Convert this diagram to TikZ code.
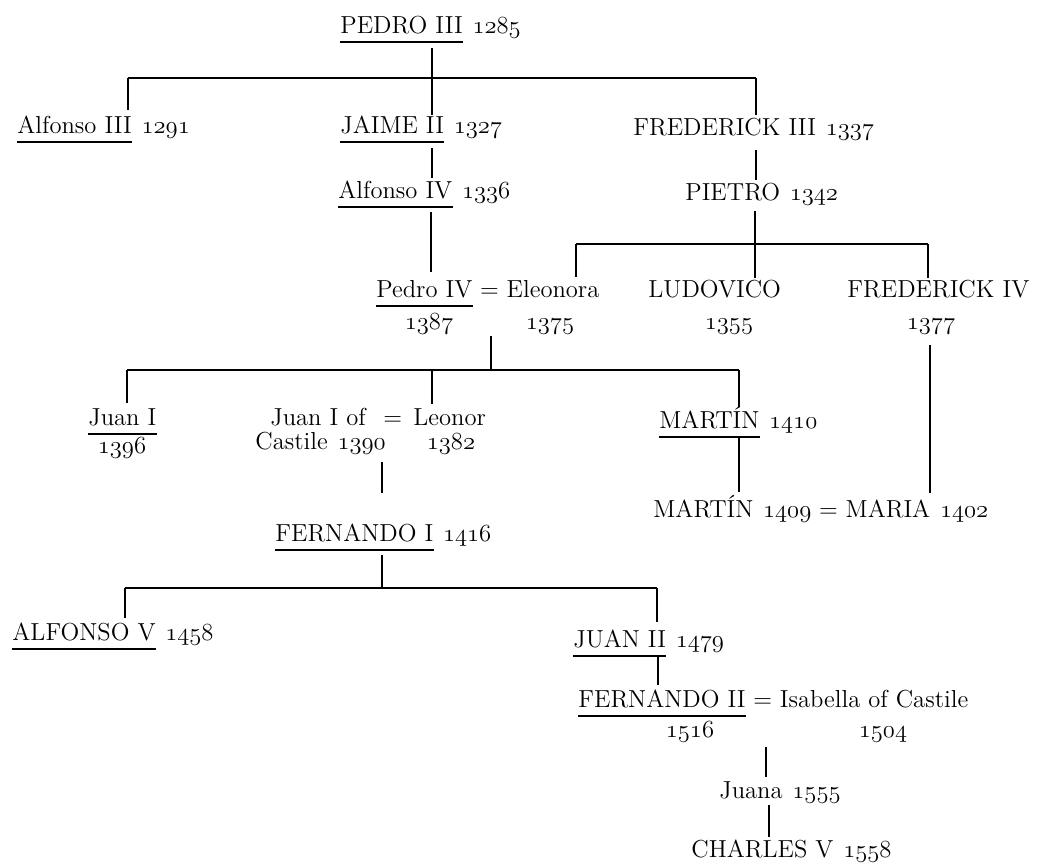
\RequirePackage{fix-cm}
\documentclass[tikz,border=0pt]{standalone}
\newcommand\fs{\fontsize{12.3}{14}\selectfont}
\newcommand\os[1]{{\usefont{OML}{cmm}{m}{it}#1}}
\begin{document}
\begin{tikzpicture}[x=0.5pt,y=-0.5pt,
  nm/.style={anchor=base west,inner sep=0pt,font=\fs},
  dc/.style={anchor=base,inner sep=0pt,font=\fs},
  ln/.style={line width=0.8pt},
  ul/.style={line width=0.6pt}]
\useasboundingbox (0,0) rectangle (1039,864);
\newcommand\ulname[1]{\draw[ul] ([yshift=-4.5pt]#1.base west) -- ([yshift=-4.5pt]#1.base east);}
\newcommand\dateafter[3]{\node[nm] (#1) at ([xshift=4.5pt]#2.base east) {\os{#3}};}
\newcommand\eqafter[2]{\node[nm] (#1) at ([xshift=3.5pt]#2.base east) {$=$};}

% ---------- generation 1
\node[nm] (p3) at (340,33) {PEDRO III}; \dateafter{p3d}{p3}{1285} \ulname{p3}

% ---------- generation 2
\node[nm] (a3) at (17,133) {Alfonso III}; \dateafter{a3d}{a3}{1291} \ulname{a3}
\node[nm] (j2) at (340,133) {JAIME II}; \dateafter{j2d}{j2}{1327} \ulname{j2}
\node[nm] (f3) at (633,135) {FREDERICK III}; \dateafter{f3d}{f3}{1337}

\node[nm] (a4) at (338,198) {Alfonso IV}; \dateafter{a4d}{a4}{1336} \ulname{a4}
\node[nm] (pi) at (685,200) {PIETRO}; \dateafter{pid}{pi}{1342}

% ---------- generation 3
\node[nm] (p4) at (376,297) {Pedro IV}; \ulname{p4}
\eqafter{p4e}{p4}
\node[nm] (el) at ([xshift=3.5pt]p4e.base east) {Eleonora};
\node[dc] (p4d) at (429,329) {\os{1387}};
\node[dc] (eld) at (550,329) {\os{1375}};
\node[nm] (lu) at (648,297) {LUDOVICO};
\node[dc] (lud) at (729,329) {\os{1355}};
\node[nm] (f4) at (847,297) {FREDERICK IV};
\node[dc] (f4d) at (931,329) {\os{1377}};

% ---------- generation 4
\node[nm] (j1) at (88,425) {Juan I}; \ulname{j1}
\node[dc] (j1d) at (122,453) {\os{1396}};
\node[nm] (jc) at (270,425) {Juan I of};
\node[nm] (jc2) at (255,449) {Castile}; \dateafter{jcd}{jc2}{1390}
\node[nm] (jce) at (383,425) {$=$};
\node[nm] (le) at (413,425) {Leonor};
\node[dc] (led) at (451,449) {\os{1382}};
\node[nm] (m1) at (659,428) {MART\'IN}; \dateafter{m1d}{m1}{1410} \ulname{m1}

\node[nm] (m2) at (653,517) {MART\'IN}; \dateafter{m2d}{m2}{1409}
\eqafter{m2e}{m2d}
\node[nm] (ma) at ([xshift=3.5pt]m2e.base east) {MARIA}; \dateafter{mad}{ma}{1402}

% ---------- generation 5
\node[nm] (fe1) at (275,541) {FERNANDO I}; \dateafter{fe1d}{fe1}{1416} \ulname{fe1}
\node[nm] (a5) at (12,640) {ALFONSO V}; \dateafter{a5d}{a5}{1458} \ulname{a5}
\node[nm] (j2b) at (573,647) {JUAN II}; \dateafter{j2bd}{j2b}{1479} \ulname{j2b}
\node[nm] (fe2) at (578,707) {FERNANDO II}; \ulname{fe2}
\eqafter{fe2e}{fe2}
\node[nm] (is) at ([xshift=3.5pt]fe2e.base east) {Isabella of Castile};
\node[dc] (fe2d) at (690,737) {\os{1516}};
\node[dc] (isd) at (883,737) {\os{1504}};
\node[nm] (ju) at (719,798) {Juana}; \dateafter{jud}{ju}{1555}
\node[nm] (c5) at (691,857) {CHARLES V}; \dateafter{c5d}{c5}{1558}

% ---------- connectors
% Pedro III's children
\coordinate (jA) at (432,78); \coordinate (jA1) at (128,78); \coordinate (jA3) at (756,78);
\draw[ln] (jA |- 0,48) -- (jA);
\draw[ln] (jA1) -- (jA3);
\draw[ln] (jA1) -- (jA1 |- 0,110);
\draw[ln] (jA) -- (jA |- 0,115);
\draw[ln] (jA3) -- (jA3 |- 0,115);
\draw[ln] (432,148) -- (432,178);
\draw[ln] (756,150) -- (756,180);
\draw[ln] (431,212) -- (431,272);
% Pietro's children
\coordinate (jB) at (755,244); \coordinate (jB1) at (576,244); \coordinate (jB3) at (928,244);
\draw[ln] (jB |- 0,211) -- (jB);
\draw[ln] (jB1) -- (jB3);
\draw[ln] (jB1) -- (jB1 |- 0,277);
\draw[ln] (jB) -- (jB |- 0,278);
\draw[ln] (jB3) -- (jB3 |- 0,278);
% Pedro IV's children
\coordinate (jC) at (491,370); \coordinate (jC1) at (127,370); \coordinate (jC2) at (432,370); \coordinate (jC3) at (739,370);
\draw[ln] (jC |- 0,336) -- (jC);
\draw[ln] (jC1) -- (jC3);
\draw[ln] (jC1) -- (jC1 |- 0,403);
\draw[ln] (jC2) -- (jC2 |- 0,404);
\draw[ln] (jC3) -- (jC3 |- 0,407);
\draw[ln] (739,438) -- (739,492);
\draw[ln] (930,345) -- (930,493);
% Juan I of Castile = Leonor
\draw[ln] (382,462) -- (382,493);
% Fernando I's children
\coordinate (jD) at (382,588); \coordinate (jD1) at (125,588); \coordinate (jD3) at (657,588);
\draw[ln] (jD |- 0,555) -- (jD);
\draw[ln] (jD1) -- (jD3);
\draw[ln] (jD1) -- (jD1 |- 0,618);
\draw[ln] (jD3) -- (jD3 |- 0,622);
\draw[ln] (658,655) -- (658,685);
\draw[ln] (766,747) -- (766,777);
\draw[ln] (769,805) -- (769,837);
\end{tikzpicture}
\end{document}
